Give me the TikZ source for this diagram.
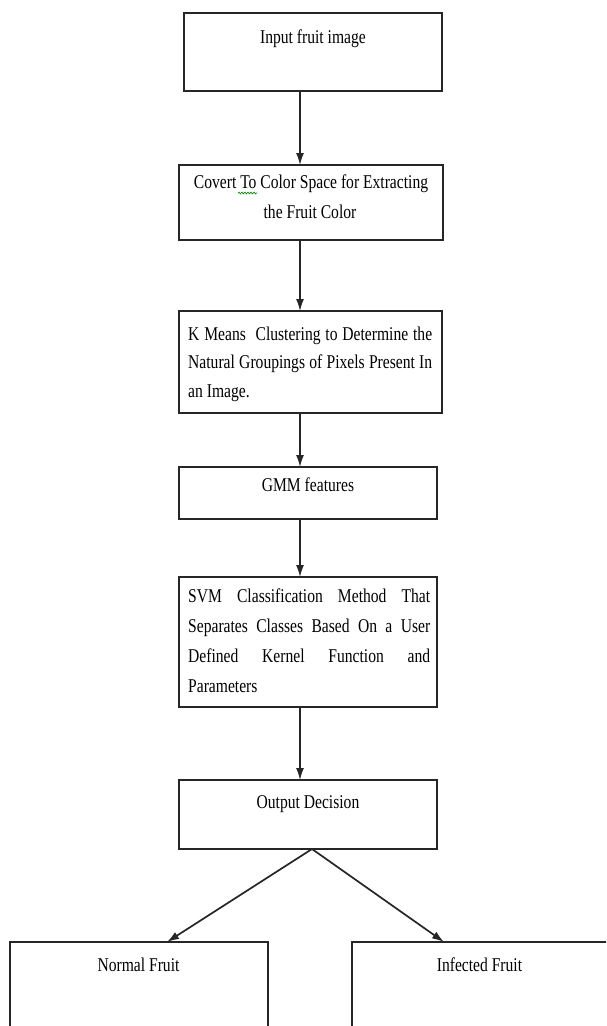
\documentclass[tikz,border=0pt]{standalone}
\usepackage{fontspec}
\setmainfont{Liberation Serif}[FakeStretch=0.8]
\usetikzlibrary{arrows.meta,calc,decorations.pathmorphing}
\begin{document}
\begin{tikzpicture}[x=1pt,y=-1pt,
  box/.style={draw=black!85, line width=1.8pt, inner sep=0pt, outer sep=0pt, anchor=north west},
  lbl/.style={inner sep=0pt, anchor=base, font=\fontsize{19.5}{29.5}\selectfont},
  jl/.style={inner sep=0pt, anchor=base west, font=\fontsize{19.5}{29.5}\selectfont},
  arr/.style={draw=black!85, line width=1.4pt, -{Latex[length=12pt,width=8pt]}}]
\useasboundingbox (0,0) rectangle (606,1026);
\clip (0,0) rectangle (606,1026);
\fill[white] (0,0) rectangle (606,1026);
% boxes
\node[box, minimum width=258pt, minimum height=78pt]  (b1) at (184,13)  {};
\node[box, minimum width=264pt, minimum height=75pt]  (b2) at (179,165) {};
\node[box, minimum width=263pt, minimum height=102pt] (b3) at (179,311) {};
\node[box, minimum width=258pt, minimum height=52pt]  (b4) at (179,467) {};
\node[box, minimum width=258pt, minimum height=130pt] (b5) at (179,577) {};
\node[box, minimum width=258pt, minimum height=69pt]  (b6) at (179,780) {};
\node[box, minimum width=258pt, minimum height=130pt] (b7) at (10,942)  {};
\node[box, minimum width=290pt, minimum height=130pt] (b8) at (352,942) {};
% texts
\node[lbl] (t1) at (313,43) {Input fruit image};
\node[lbl] (t2a) at (311,188) {Covert To Color Space for Extracting};
\node[lbl] (t2b) at (310,218) {the Fruit Color};
\node[jl] (t3a) at (188,340) {\makebox[244pt][s]{K Means\ \ Clustering to Determine the}};
\node[jl] (t3b) at (188,368) {\makebox[244pt][s]{Natural Groupings of Pixels Present In}};
\node[jl] (t3c) at (188,397) {an Image.};
\node[lbl] (t4) at (308,491) {GMM features};
\node[jl] (t5a) at (188,602) {\makebox[242pt][s]{SVM Classification Method That}};
\node[jl] (t5b) at (188,632) {\makebox[242pt][s]{Separates Classes Based On a User}};
\node[jl] (t5c) at (188,662) {\makebox[242pt][s]{Defined Kernel Function and}};
\node[jl] (t5d) at (188,692) {Parameters};
\node[lbl] (t6) at (308,808) {Output Decision};
\node[lbl] (t7) at (138.5,971) {Normal Fruit};
\node[lbl] (t8) at (479.5,971) {Infected Fruit};
% spell-check squiggle
\coordinate (sq1) at (238,193);
\coordinate (sq2) at (257,193);
\draw[green!60!black, line width=0.7pt, decorate, decoration={snake, amplitude=0.9pt, segment length=3pt}] (sq1) -- (sq2);
% connectors
\coordinate (ax) at (300,0);
\draw[arr] (b1.south -| ax) -- (b2.north -| ax);
\draw[arr] (b2.south -| ax) -- (b3.north -| ax);
\draw[arr] (b3.south -| ax) -- (b4.north -| ax);
\draw[arr] (b4.south -| ax) -- (b5.north -| ax);
\draw[arr] (b5.south -| ax) -- (b6.north -| ax);
\coordinate (apex) at (312,849);
\coordinate (lx) at (167,0);
\coordinate (rx) at (444,0);
\draw[arr, line width=1.7pt] (b6.south -| apex) -- (b7.north -| lx);
\draw[arr, line width=1.7pt] (b6.south -| apex) -- (b8.north -| rx);
\end{tikzpicture}
\end{document}
